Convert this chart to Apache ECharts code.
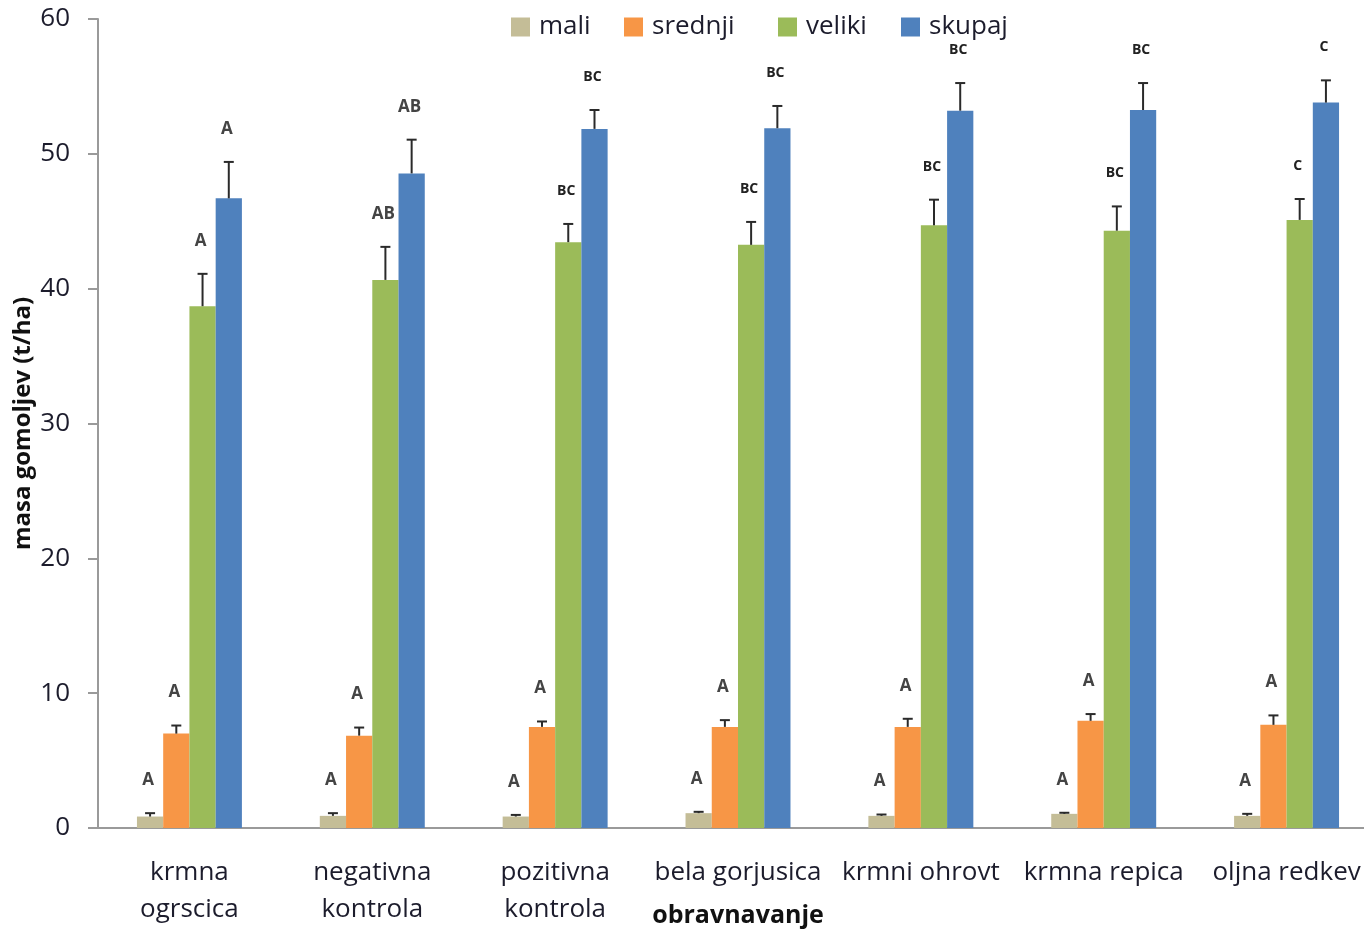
<!DOCTYPE html>
<html>
<head>
<meta charset="utf-8">
<script src="https://cdn.jsdelivr.net/npm/echarts@6/dist/echarts.min.js"></script>
<style>
html,body{margin:0;padding:0;background:#fff;}
#chart{width:1364px;height:931px;}
</style>
</head>
<body>
<div id="chart"></div>
<script>
// ---- data ----
var categories = ['krmna\nogrscica', 'negativna\nkontrola', 'pozitivna\nkontrola', 'bela gorjusica', 'krmni ohrovt', 'krmna repica', 'oljna redkev'];
var seriesNames = ['mali', 'srednji', 'veliki', 'skupaj'];
var mali    = [0.85, 0.9, 0.85, 1.1, 0.9, 1.05, 0.9];
var srednji = [7.0, 6.85, 7.5, 7.5, 7.5, 7.95, 7.65];
var veliki  = [38.7, 40.65, 43.45, 43.25, 44.7, 44.3, 45.1];
var skupaj  = [46.7, 48.55, 51.85, 51.9, 53.2, 53.25, 53.8];
var maliErr    = [0.25, 0.2, 0.12, 0.1, 0.1, 0.08, 0.15];
var srednjiErr = [0.6, 0.6, 0.4, 0.5, 0.6, 0.5, 0.7];
var velikiErr  = [2.4, 2.45, 1.35, 1.7, 1.9, 1.8, 1.55];
var skupajErr  = [2.7, 2.5, 1.4, 1.65, 2.05, 2.0, 1.65];
var maliLetters    = ['A', 'A', 'A', 'A', 'A', 'A', 'A'];
var srednjiLetters = ['A', 'A', 'A', 'A', 'A', 'A', 'A'];
var velikiLetters  = ['A', 'AB', 'BC', 'BC', 'BC', 'BC', 'C'];
var skupajLetters  = ['A', 'AB', 'BC', 'BC', 'BC', 'BC', 'C'];
var yTicks = [0, 10, 20, 30, 40, 50, 60];

var colors = ['#c4bd97', '#f79646', '#9bbb59', '#4f81bd'];
var values = [mali, srednji, veliki, skupaj];
var errs = [maliErr, srednjiErr, velikiErr, skupajErr];
var letters = [maliLetters, srednjiLetters, velikiLetters, skupajLetters];

var GAP = 0.426;
var FONT = '"Open Sans", sans-serif';
var TXT = '#1c1c2c';

var chart = echarts.init(document.getElementById('chart'), null, {renderer: 'canvas'});

var series = [];
seriesNames.forEach(function (n, k) {
  series.push({
    name: n, type: 'bar', data: values[k],
    barGap: '0%', barCategoryGap: (GAP * 100) + '%',
    itemStyle: {color: colors[k]}, z: 2
  });
});
seriesNames.forEach(function (n, k) {
  series.push({
    type: 'custom', name: n + '_err', z: 5, silent: true,
    data: values[k].map(function (v, i) { return [i, v, v + errs[k][i]]; }),
    renderItem: function (params, api) {
      var c = api.value(0);
      var b = api.coord([c, api.value(1)]);
      var t = api.coord([c, api.value(2)]);
      var band = api.size([1, 0])[0];
      var bw = band * (1 - GAP) / 4;
      var x = b[0] + (k - 1.5) * bw;
      var txt = letters[k][params.dataIndex];
      var isBC = txt.indexOf('C') >= 0;
      return {
        type: 'group',
        children: [
          {type: 'line', shape: {x1: x, y1: b[1], x2: x, y2: t[1]}, style: {stroke: '#2a2a2a', lineWidth: 2}},
          {type: 'line', shape: {x1: x - 5, y1: t[1], x2: x + 5, y2: t[1]}, style: {stroke: '#2a2a2a', lineWidth: 2}},
          {type: 'text', x: x - 2, y: t[1] - 33, style: {
            text: txt, fill: isBC ? '#222' : '#444',
            font: (isBC ? 'bold 14px ' : 'bold 17px ') + FONT,
            align: 'center', verticalAlign: 'middle'}}
        ]
      };
    }
  });
});

var legendLefts = [511, 624, 778, 901];
var legends = seriesNames.map(function (n, k) {
  return {
    data: [{name: n, icon: 'rect'}], left: legendLefts[k], top: 14,
    itemWidth: 19, itemHeight: 19, padding: 0,
    textStyle: {fontFamily: FONT, fontSize: 26, color: TXT, padding: [0, 0, 0, 4]},
    selectedMode: false
  };
});

chart.setOption({
  animation: false,
  backgroundColor: '#fff',
  color: colors,
  legend: legends,
  grid: {left: 98, top: 19, width: 1280, bottom: 103, containLabel: false, outerBoundsMode: 'none'},
  xAxis: {
    type: 'category', data: categories,
    name: 'obravnavanje', nameLocation: 'middle', nameGap: 75, nameMoveOverlap: false,
    nameTextStyle: {fontFamily: FONT, fontSize: 25, fontWeight: 'bold', color: '#111'},
    axisLine: {lineStyle: {color: '#9a9a9a', width: 2}},
    axisTick: {show: false},
    axisLabel: {fontFamily: FONT, fontSize: 26, color: TXT, margin: 26, lineHeight: 37, interval: 0, hideOverlap: false}
  },
  yAxis: {
    type: 'value', min: 0, max: 60, interval: 10,
    name: 'masa gomoljev (t/ha)', nameLocation: 'middle', nameGap: 63, nameRotate: 90, nameMoveOverlap: false,
    nameTextStyle: {fontFamily: FONT, fontSize: 24, fontWeight: 'bold', color: '#111'},
    axisLine: {show: true, lineStyle: {color: '#9a9a9a', width: 2}},
    axisTick: {show: true, length: 10, lineStyle: {color: '#9a9a9a', width: 2}},
    splitLine: {show: false},
    axisLabel: {fontFamily: FONT, fontSize: 26, color: TXT, margin: 28,
      formatter: function (v) { return yTicks.indexOf(v) >= 0 ? String(v) : ''; }}
  },
  series: series
});
</script>
</body>
</html>
